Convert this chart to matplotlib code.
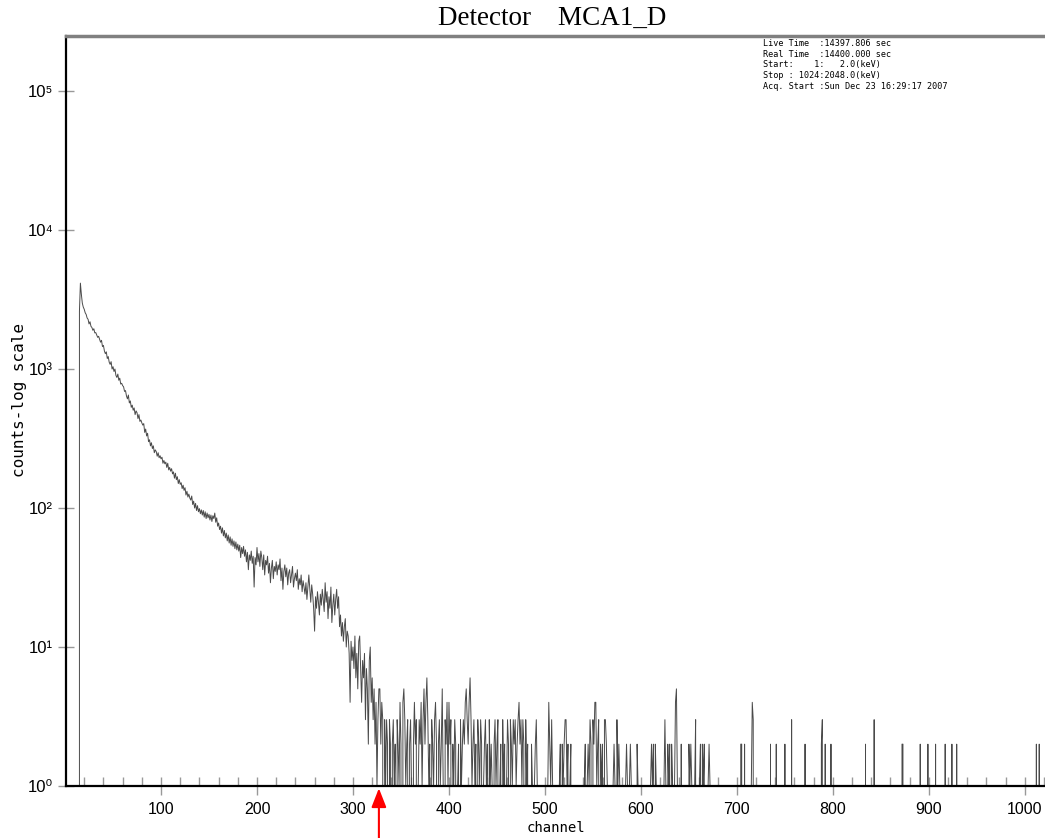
import matplotlib
matplotlib.use('Agg')
import matplotlib.pyplot as plt
from matplotlib.ticker import FixedLocator, MultipleLocator, NullLocator
import numpy as np

#-------------------------------------------------------------------------------
#PART 1: Data (counts per channel)
#-------------------------------------------------------------------------------

#channels 0-339 : rising edge and the decaying continuum
decay_counts = [
    0, 0, 0, 0, 0, 0, 0, 0, 0, 0,
    0, 0, 0, 0, 0, 2600, 4150, 3450, 2980, 2790,
    2690, 2540, 2470, 2330, 2280, 2110, 2190, 2030, 1990, 1900,
    1950, 1820, 1830, 1760, 1690, 1720, 1640, 1560, 1610, 1450,
    1480, 1350, 1290, 1330, 1190, 1230, 1120, 1080, 1130, 1000,
    1040, 960, 1000, 900, 870, 920, 830, 860, 780, 790,
    760, 745, 690, 700, 640, 610, 650, 570, 590, 530,
    550, 505, 525, 470, 500, 485, 440, 470, 420, 430,
    410, 395, 405, 350, 370, 330, 345, 300, 310, 280,
    295, 268, 280, 250, 262, 255, 236, 250, 230, 238,
    226, 232, 210, 220, 208, 214, 196, 210, 188, 196,
    184, 192, 176, 182, 164, 178, 160, 168, 150, 160,
    148, 152, 138, 146, 134, 140, 124, 132, 120, 126,
    118, 114, 122, 106, 112, 100, 108, 96, 104, 94,
    99, 91, 97, 89, 96, 86, 94, 84, 92, 85,
    90, 82, 89, 80, 88, 84, 92, 79, 85, 74,
    78, 70, 74, 66, 72, 63, 69, 61, 66, 58,
    64, 56, 62, 54, 60, 53, 58, 51, 57, 50,
    55, 49, 54, 44, 52, 47, 53, 45, 50, 41,
    48, 36, 46, 42, 49, 40, 45, 27, 44, 39,
    52, 41, 47, 38, 49, 44, 36, 46, 33, 42,
    39, 45, 34, 40, 29, 37, 42, 31, 38, 35,
    41, 33, 39, 36, 43, 30, 37, 26, 35, 39,
    32, 37, 28, 34, 36, 29, 33, 38, 27, 31,
    34, 30, 36, 26, 31, 28, 33, 25, 30, 27,
    24, 29, 22, 27, 33, 26, 21, 28, 24, 19,
    13, 23, 19, 25, 21, 17, 24, 20, 26, 22,
    18, 29, 21, 25, 16, 23, 19, 27, 15, 20,
    24, 17, 22, 26, 19, 23, 14, 17, 12, 15,
    11, 14, 16, 10, 13, 12, 9, 4, 11, 8,
    10, 7, 12, 6, 9, 5, 11, 12, 7, 4,
    8, 6, 9, 3, 7, 5, 2, 8, 10, 4,
    6, 3, 5, 2, 4, 1, 3, 5, 5, 2,
    4, 3, 0, 3, 1, 3, 2, 0, 3, 2,
]

#channels 340-679 : noisy low-count tail
tail_counts = [
    0, 2, 3, 1, 2, 0, 3, 2, 1, 4,
    2, 0, 4, 5, 3, 1, 2, 3, 0, 2,
    3, 1, 0, 2, 4, 2, 3, 0, 1, 3,
    2, 4, 1, 3, 5, 2, 4, 6, 3, 1,
    2, 0, 3, 2, 1, 3, 4, 2, 0, 2,
    3, 1, 2, 5, 1, 0, 3, 2, 4, 1,
    4, 2, 3, 0, 2, 1, 3, 2, 0, 1,
    2, 0, 3, 1, 2, 3, 2, 4, 5, 3,
    2, 4, 6, 3, 1, 2, 3, 1, 2, 0,
    3, 2, 1, 3, 2, 0, 1, 2, 3, 1,
    2, 0, 3, 1, 2, 1, 0, 2, 3, 1,
    2, 3, 0, 1, 2, 0, 3, 1, 2, 0,
    1, 3, 2, 0, 3, 2, 1, 3, 2, 3,
    1, 2, 3, 4, 2, 3, 1, 3, 2, 0,
    3, 1, 2, 0, 1, 0, 2, 1, 0, 1,
    2, 3, 1, 0, 1, 0, 1, 0, 1, 0,
    0, 1, 0, 1, 4, 2, 1, 3, 1, 0,
    1, 0, 1, 0, 0, 1, 2, 0, 2, 1,
    2, 3, 3, 1, 2, 0, 1, 2, 0, 0,
    1, 0, 0, 1, 0, 0, 1, 0, 1, 0,
    0, 1, 2, 0, 1, 2, 1, 3, 2, 0,
    3, 2, 4, 4, 1, 2, 3, 0, 2, 1,
    2, 0, 3, 3, 2, 1, 0, 1, 0, 1,
    0, 1, 2, 1, 0, 3, 1, 2, 1, 0,
    1, 0, 1, 0, 1, 2, 1, 0, 1, 2,
    1, 0, 1, 0, 1, 0, 2, 1, 0, 1,
    1, 0, 0, 0, 1, 0, 0, 0, 0, 0,
    1, 2, 1, 2, 0, 2, 1, 0, 0, 0,
    0, 1, 0, 0, 1, 3, 1, 0, 2, 1,
    2, 0, 2, 1, 0, 1, 4, 5, 1, 0,
    1, 0, 2, 0, 1, 0, 0, 1, 0, 0,
    2, 1, 2, 1, 0, 1, 1, 3, 0, 1,
    0, 1, 2, 0, 2, 1, 2, 0, 1, 0,
    1, 2, 1, 0, 0, 0, 1, 0, 0, 0,
]

#channels 680-1023 : isolated counts (all other channels empty)
far_channels = [688, 695, 704, 705, 708, 715, 716, 717, 735, 741, 750, 757,
                771, 788, 789, 792, 798, 834, 843, 872, 873, 891, 899, 907,
                917, 924, 929, 1012, 1015]
far_counts = [1, 1, 2, 2, 2, 1, 4, 3, 2, 2, 2, 3,
              2, 2, 3, 2, 2, 2, 3, 2, 2, 2, 2, 2,
              2, 2, 2, 2, 2]

n_channels = 1024
x_ticks = [100, 200, 300, 400, 500, 600, 700, 800, 900, 1000]
y_ticks = [1, 10, 100, 1000, 10000, 100000]
y_tick_labels = ['10⁰', '10¹', '10²', '10³', '10⁴', '10⁵']
marked_channel = 327

info_lines = [
    'Live Time  :14397.806 sec',
    'Real Time  :14400.000 sec',
    'Start:    1:   2.0(keV)',
    'Stop : 1024:2048.0(keV)',
    'Acq. Start :Sun Dec 23 16:29:17 2007',
]

counts = np.zeros(n_channels)
counts[:340] = decay_counts
counts[340:680] = tail_counts
counts[far_channels] = far_counts
channels = np.arange(n_channels)

#-------------------------------------------------------------------------------
#PART 2: Graph output
#-------------------------------------------------------------------------------

sans = ['Liberation Sans', 'DejaVu Sans']
mono = ['DejaVu Sans Mono']

fig = plt.figure(figsize=(10.45, 8.38), dpi=100)
ax = fig.add_axes([66/1045, 52/838, 979/1045, 750/838])

ax.plot(channels, counts, color='#4a4a4a', lw=0.7)

ax.set_yscale('log', nonpositive='clip')
ax.set_xlim(1, 1021)
ax.set_ylim(1, 2.49e5)

#Ticks
ax.xaxis.set_major_locator(FixedLocator(x_ticks))
ax.xaxis.set_minor_locator(MultipleLocator(20))
ax.yaxis.set_major_locator(FixedLocator(y_ticks))
ax.yaxis.set_minor_locator(NullLocator())
ax.set_xticklabels([str(v) for v in x_ticks], family=sans, fontsize=11.5)
ax.set_yticklabels(y_tick_labels, family=sans, fontsize=12)

ax.tick_params(axis='x', which='major', direction='inout', length=13,
               width=1, color='#999999', pad=5)
ax.tick_params(axis='x', which='minor', direction='in', length=6.5,
               width=1, color='#999999')
ax.tick_params(axis='y', which='major', direction='inout', length=11.5,
               width=1, color='#999999', pad=3.5)

#Spines
ax.spines['left'].set_linewidth(1.6)
ax.spines['bottom'].set_linewidth(1.6)
ax.spines['top'].set_linewidth(2.5)
ax.spines['top'].set_color('#808080')
ax.spines['right'].set_visible(False)

#Labels
ax.set_xlabel('channel', family=mono, fontsize=10)
ax.xaxis.set_label_coords(0.5, -0.046)
ax.set_ylabel('counts-log scale', family=mono, fontsize=11.5)
ax.yaxis.set_label_coords(-0.040, 0.515)

fig.text(552/1045, 1 - 18/838, 'Detector    MCA1_D', family='Liberation Serif',
         fontsize=19.5, ha='center', va='center')

fig.text(763/1045, 1 - 39/838, '\n'.join(info_lines), family=mono,
         fontsize=6.1, ha='left', va='top', linespacing=1.25)

#Marker arrow under the x axis
ax.annotate('', xy=(marked_channel, -0.003), xytext=(marked_channel, -0.075),
            xycoords=('data', 'axes fraction'), textcoords=('data', 'axes fraction'),
            annotation_clip=False,
            arrowprops=dict(arrowstyle='-|>,head_length=1.15,head_width=0.45',
                            color='red', lw=1.5, mutation_scale=10,
                            shrinkA=0, shrinkB=0))

fig.savefig('out.png', dpi=100)
